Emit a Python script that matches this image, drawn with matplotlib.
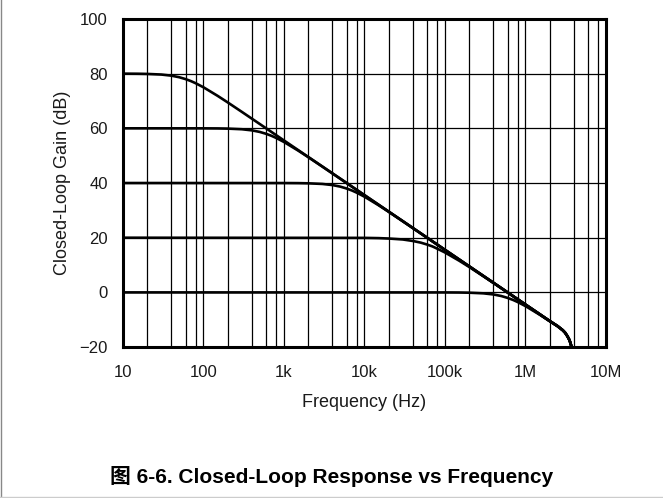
import matplotlib
matplotlib.use('Agg')
import matplotlib.pyplot as plt
from matplotlib.lines import Line2D
from matplotlib.ticker import FixedLocator, NullFormatter

plt.rcParams['font.family'] = ['Liberation Sans', 'Noto Sans CJK SC', 'DejaVu Sans']

# Closed-loop gain curves (Hz, dB)
freq_80 = [10, 15, 20, 30, 40, 50, 60, 70, 80, 100, 150, 200, 300, 400, 500, 600, 700, 800,
           1e3, 1.5e3, 2e3, 3e3, 5e3, 1e4, 2e4, 5e4, 1e5, 2e5, 5e5, 1e6, 1.5e6, 2e6, 2.5e6,
           2.9e6, 3.1e6, 3.3e6, 3.5e6, 3.6e6, 3.7e6, 3.72e6]
gain_80 = [79.99, 79.96, 79.89, 79.66, 79.25, 78.68, 77.99, 77.25, 76.48, 75.0, 71.86, 69.47,
           66.0, 63.51, 61.58, 60.0, 58.66, 57.5, 55.56, 52.04, 49.54, 46.02, 41.58, 35.56,
           29.54, 21.58, 15.56, 9.54, 1.58, -4.44, -7.96, -10.46, -12.3, -13.8, -14.7, -15.9,
           -17.3, -18.3, -19.5, -20.0]

freq_60 = [10, 100, 150, 200, 300, 400, 500, 600, 700, 800, 1e3, 1.5e3, 2e3, 3e3, 4e3, 5e3,
           6e3, 8e3, 1e4, 2e4, 5e4, 1e5, 2e5, 5e5, 1e6, 2e6, 2.5e6, 2.9e6, 3.1e6, 3.3e6,
           3.5e6, 3.6e6, 3.7e6, 3.72e6]
gain_60 = [60.0, 59.99, 59.96, 59.89, 59.66, 59.25, 58.68, 57.99, 57.25, 56.48, 55.0, 51.86,
           49.47, 46.0, 43.51, 41.58, 40.0, 37.5, 35.56, 29.54, 21.58, 15.56, 9.54, 1.58,
           -4.44, -10.46, -12.3, -13.8, -14.7, -15.9, -17.3, -18.3, -19.5, -20.0]

freq_40 = [10, 1e3, 1.5e3, 2e3, 3e3, 4e3, 5e3, 6e3, 7e3, 8e3, 1e4, 1.5e4, 2e4, 3e4, 4e4,
           5e4, 6e4, 8e4, 1e5, 2e5, 5e5, 1e6, 2e6, 2.5e6, 2.9e6, 3.1e6, 3.3e6, 3.5e6, 3.6e6,
           3.7e6, 3.72e6]
gain_40 = [40.0, 39.99, 39.96, 39.89, 39.66, 39.25, 38.68, 37.99, 37.25, 36.48, 35.0, 31.86,
           29.47, 26.0, 23.51, 21.58, 20.0, 17.5, 15.56, 9.54, 1.58, -4.44, -10.46, -12.3,
           -13.8, -14.7, -15.9, -17.3, -18.3, -19.5, -20.0]

freq_20 = [10, 1e4, 1.5e4, 2e4, 3e4, 4e4, 5e4, 6e4, 7e4, 8e4, 1e5, 1.5e5, 2e5, 3e5, 4e5,
           5e5, 6e5, 7e5, 8e5, 1e6, 2e6, 2.5e6, 2.9e6, 3.1e6, 3.3e6, 3.5e6, 3.6e6, 3.7e6,
           3.72e6]
gain_20 = [20.0, 19.94, 19.85, 19.7, 19.35, 18.8, 18.2, 17.5, 16.8, 16.0, 14.6, 11.6, 9.3,
           5.9, 3.45, 1.55, -0.02, -1.36, -2.52, -4.45, -10.46, -12.3, -13.8, -14.7, -15.9,
           -17.3, -18.3, -19.5, -20.0]

freq_0 = [10, 1e5, 1.5e5, 2e5, 3e5, 4e5, 5e5, 6e5, 7e5, 8e5, 1e6, 1.5e6, 2e6, 2.5e6,
          2.9e6, 3.1e6, 3.3e6, 3.5e6, 3.6e6, 3.7e6, 3.72e6]
gain_0 = [0.0, -0.01, -0.04, -0.11, -0.34, -0.75, -1.32, -2.01, -2.75, -3.52, -5.0, -8.14,
          -10.53, -12.4, -13.85, -14.7, -15.9, -17.3, -18.3, -19.5, -20.0]

x_ticks = [10, 100, 1e3, 1e4, 1e5, 1e6, 1e7]
x_labels = ['10', '100', '1k', '10k', '100k', '1M', '10M']
y_ticks = [-20, 0, 20, 40, 60, 80, 100]
minor_mult = [2, 4, 6, 8]

fig = plt.figure(figsize=(6.63, 4.98), dpi=100)
ax = fig.add_axes([0.1855, 0.303, 0.7285, 0.659])

for f, g in [(freq_80, gain_80), (freq_60, gain_60), (freq_40, gain_40),
             (freq_20, gain_20), (freq_0, gain_0)]:
    ax.plot(f, g, color='black', lw=1.9, solid_capstyle='butt', zorder=3)

ax.set_xscale('log')
ax.set_xlim(10, 1e7)
ax.set_ylim(-20, 100)
ax.set_xticks(x_ticks)
ax.set_xticklabels(x_labels)
ax.xaxis.set_minor_locator(FixedLocator([m * 10 ** e for e in range(1, 7) for m in minor_mult]))
ax.xaxis.set_minor_formatter(NullFormatter())
ax.set_yticks(y_ticks)

ax.grid(True, which='both', axis='x', color='black', lw=0.9)
ax.grid(True, which='major', axis='y', color='black', lw=0.9)
ax.tick_params(which='both', length=0, labelsize=12, colors='#1a1a1a')
ax.tick_params(axis='x', pad=13)
ax.tick_params(axis='y', pad=11)
for s in ax.spines.values():
    s.set_linewidth(2.2)

ax.set_xlabel('Frequency (Hz)', fontsize=13, color='#1a1a1a', labelpad=10)
ax.set_ylabel('Closed-Loop Gain (dB)', fontsize=13, color='#1a1a1a', labelpad=6)

fig.text(0.5, 0.044, '图 6-6. Closed-Loop Response vs Frequency', ha='center', va='center',
         fontsize=15, fontweight='bold',
         family=['Liberation Sans', 'Noto Sans CJK SC'])

# page frame lines
fig.add_artist(Line2D([0.002, 0.002], [0.003, 1], transform=fig.transFigure, color='#888888', lw=1))
fig.add_artist(Line2D([0, 1], [0.003, 0.003], transform=fig.transFigure, color='#cccccc', lw=1))

fig.savefig('out.png', dpi=100)
